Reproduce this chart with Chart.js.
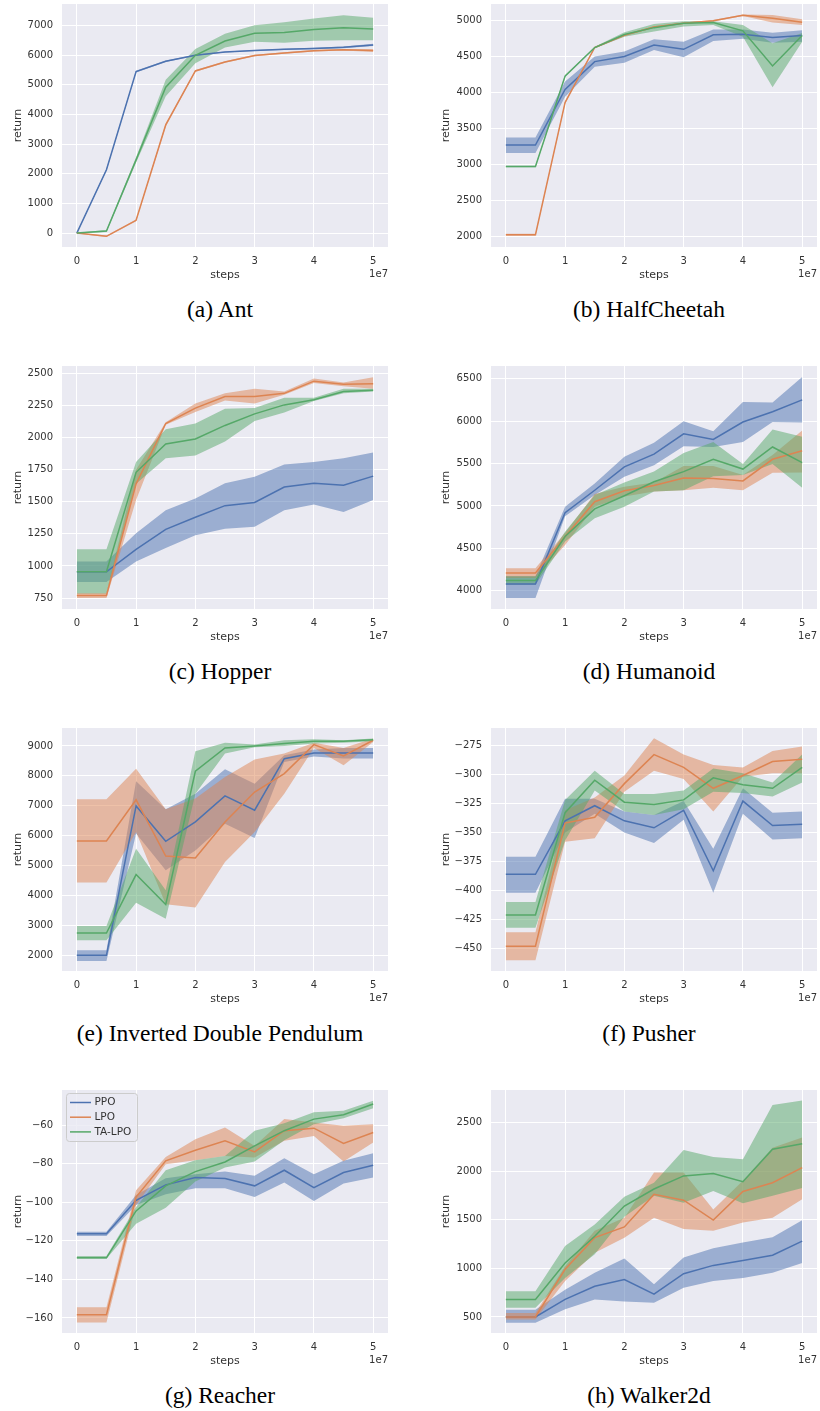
<!DOCTYPE html>
<html>
<head>
<meta charset="utf-8">
<script src="https://cdn.jsdelivr.net/npm/chart.js@4.4.1/dist/chart.umd.min.js"></script>
<style>
  body { margin: 0; background: #fff; }
  #page { position: relative; width: 820px; height: 1411px; background: #fff; }
  canvas { position: absolute; }
  .caption {
    position: absolute;
    width: 400px;
    margin-left: -200px;
    text-align: center;
    font-family: "Liberation Serif", "Times New Roman", serif;
    font-size: 23.5px;
    line-height: 28px;
    color: #000;
  }
</style>
</head>
<body>
<div id="page"></div>
<script>
"use strict";

const STEPS = [0, 0.5, 1, 1.5, 2, 2.5, 3, 3.5, 4, 4.5, 5];   // x 1e7
const X_TICKS = [0, 1, 2, 3, 4, 5];
const LABELS = ["PPO", "LPO", "TA-LPO"];

// (a) Ant
const ANT_YLIM = [-470, 7730];
const ANT_YTICKS = [0, 1000, 2000, 3000, 4000, 5000, 6000, 7000];
const ANT_PPO = [0, 2135, 5450, 5800, 6000, 6110, 6160, 6200, 6230, 6270, 6350];
const ANT_PPO_LO = [-15, 2100, 5420, 5775, 5980, 6090, 6140, 6180, 6205, 6240, 6310];
const ANT_PPO_HI = [15, 2170, 5480, 5825, 6020, 6130, 6180, 6220, 6255, 6300, 6390];
const ANT_LPO = [0, -110, 430, 3650, 5470, 5770, 5990, 6080, 6150, 6190, 6160];
const ANT_LPO_LO = [-15, -135, 400, 3600, 5440, 5745, 5965, 6055, 6125, 6165, 6110];
const ANT_LPO_HI = [15, -85, 460, 3700, 5500, 5795, 6015, 6105, 6175, 6215, 6200];
const ANT_TA = [0, 70, 2470, 4920, 6000, 6480, 6740, 6770, 6870, 6930, 6890];
const ANT_TA_LO = [-15, 40, 2380, 4620, 5730, 6260, 6460, 6420, 6490, 6510, 6510];
const ANT_TA_HI = [15, 100, 2560, 5170, 6210, 6730, 7010, 7110, 7240, 7350, 7270];

// (b) HalfCheetah
const HC_YLIM = [1860, 5222];
const HC_YTICKS = [2000, 2500, 3000, 3500, 4000, 4500, 5000];
const HC_PPO = [3270, 3270, 4040, 4425, 4495, 4655, 4595, 4795, 4805, 4760, 4785];
const HC_PPO_LO = [3160, 3160, 3940, 4355, 4410, 4585, 4485, 4710, 4740, 4685, 4700];
const HC_PPO_HI = [3375, 3375, 4150, 4495, 4565, 4735, 4700, 4870, 4870, 4825, 4860];
const HC_LPO = [2030, 2030, 3860, 4620, 4790, 4905, 4955, 4990, 5065, 5025, 4970];
const HC_LPO_LO = [2015, 2015, 3840, 4610, 4780, 4895, 4945, 4980, 5055, 4965, 4930];
const HC_LPO_HI = [2045, 2045, 3880, 4630, 4800, 4915, 4965, 5000, 5075, 5070, 5010];
const HC_TA = [2975, 2975, 4225, 4620, 4800, 4895, 4955, 4965, 4850, 4365, 4785];
const HC_TA_LO = [2965, 2965, 4210, 4610, 4770, 4840, 4910, 4930, 4770, 4070, 4700];
const HC_TA_HI = [2985, 2985, 4240, 4630, 4830, 4945, 4985, 4985, 4930, 4680, 4820];

// (c) Hopper
const HOP_YLIM = [665, 2558];
const HOP_YTICKS = [750, 1000, 1250, 1500, 1750, 2000, 2250, 2500];
const HOP_PPO = [955, 955, 1130, 1285, 1380, 1470, 1495, 1615, 1645, 1630, 1700];
const HOP_PPO_LO = [875, 875, 1035, 1140, 1240, 1290, 1305, 1435, 1480, 1420, 1515];
const HOP_PPO_HI = [1035, 1035, 1255, 1435, 1525, 1645, 1695, 1790, 1810, 1840, 1885];
const HOP_LPO = [770, 770, 1640, 2110, 2230, 2320, 2320, 2345, 2440, 2415, 2420];
const HOP_LPO_LO = [750, 750, 1515, 2100, 2200, 2290, 2265, 2335, 2425, 2400, 2380];
const HOP_LPO_HI = [790, 790, 1750, 2120, 2265, 2345, 2380, 2360, 2460, 2430, 2470];
const HOP_TA = [955, 955, 1730, 1950, 1990, 2095, 2185, 2255, 2295, 2360, 2370];
const HOP_TA_LO = [785, 785, 1640, 1840, 1860, 1970, 2130, 2195, 2285, 2345, 2360];
const HOP_TA_HI = [1130, 1130, 1810, 2065, 2110, 2225, 2230, 2310, 2310, 2380, 2380];

// (d) Humanoid
const HUM_YLIM = [3785, 6650];
const HUM_YTICKS = [4000, 4500, 5000, 5500, 6000, 6500];
const HUM_PPO = [4080, 4080, 4920, 5185, 5460, 5610, 5850, 5785, 5990, 6110, 6250];
const HUM_PPO_LO = [3915, 3915, 4880, 5130, 5345, 5480, 5705, 5695, 5755, 5990, 5985];
const HUM_PPO_HI = [4170, 4170, 4990, 5265, 5580, 5745, 6000, 5880, 6225, 6220, 6520];
const HUM_LPO = [4210, 4210, 4640, 5050, 5180, 5240, 5330, 5325, 5295, 5550, 5650];
const HUM_LPO_LO = [4150, 4150, 4540, 4990, 5110, 5170, 5185, 5215, 5185, 5390, 5395];
const HUM_LPO_HI = [4265, 4265, 4685, 5140, 5225, 5275, 5470, 5470, 5365, 5600, 5890];
const HUM_TA = [4120, 4120, 4640, 4965, 5120, 5285, 5405, 5550, 5435, 5695, 5510];
const HUM_TA_LO = [4070, 4070, 4580, 4855, 4990, 5170, 5185, 5350, 5365, 5495, 5215];
const HUM_TA_HI = [4170, 4170, 4695, 5130, 5275, 5405, 5625, 5755, 5495, 5900, 5815];

// (e) Inverted Double Pendulum
const IDP_YLIM = [1475, 9600];
const IDP_YTICKS = [2000, 3000, 4000, 5000, 6000, 7000, 8000, 9000];
const IDP_PPO = [2000, 2000, 6995, 5810, 6460, 7330, 6850, 8575, 8765, 8765, 8765];
const IDP_PPO_LO = [1810, 1810, 6070, 4840, 5500, 6400, 5920, 8460, 8650, 8580, 8580];
const IDP_PPO_HI = [2170, 2170, 7820, 6880, 7400, 8220, 7740, 8690, 8880, 8930, 8930];
const IDP_LPO = [5820, 5820, 7200, 5320, 5255, 6460, 7460, 8075, 9045, 8665, 9190];
const IDP_LPO_LO = [4430, 4430, 6120, 3705, 3595, 5120, 6120, 7405, 8935, 8355, 9135];
const IDP_LPO_HI = [7215, 7215, 8240, 6880, 7240, 7965, 8545, 8745, 9110, 8935, 9245];
const IDP_TA = [2745, 2745, 4700, 3695, 8155, 8935, 9000, 9080, 9155, 9155, 9210];
const IDP_TA_LO = [2500, 2500, 3760, 3225, 7405, 8745, 8955, 9000, 9080, 9110, 9155];
const IDP_TA_HI = [2980, 2980, 5565, 4175, 8820, 9110, 9045, 9190, 9225, 9190, 9245];

// (f) Pusher
const PUSH_YLIM = [-469.3, -260.1];
const PUSH_YTICKS = [-450, -425, -400, -375, -350, -325, -300, -275];
const PUSH_PPO = [-386, -386, -340, -327, -340, -346, -331, -383, -323, -344, -343];
const PUSH_PPO_LO = [-402, -402, -350, -334, -350, -359, -339, -402, -334, -356, -355];
const PUSH_PPO_HI = [-371, -371, -321, -321, -332, -335, -323, -364, -312, -333, -332];
const PUSH_LPO = [-448, -448, -342, -337, -308, -283, -294, -312, -301, -289, -287];
const PUSH_LPO_LO = [-460, -460, -358, -355, -315, -297, -304, -332, -302, -299, -299];
const PUSH_LPO_HI = [-436, -436, -331, -320, -301, -269, -283, -292, -294, -280, -276];
const PUSH_TA = [-421, -421, -333, -305, -324, -326, -322, -303, -309, -312, -294];
const PUSH_TA_LO = [-432, -432, -357, -314, -332, -335, -330, -315, -316, -319, -307];
const PUSH_TA_HI = [-410, -410, -322, -297, -317, -317, -314, -295, -299, -307, -283];

// (g) Reacher
const REA_YLIM = [-167.8, -41.8];
const REA_YTICKS = [-160, -140, -120, -100, -80, -60];
const REA_PPO = [-116.3, -116.3, -99.0, -91.0, -87.2, -87.7, -91.5, -83.4, -92.4, -84.6, -80.8];
const REA_PPO_LO = [-117.5, -117.5, -101.4, -95.9, -92.8, -92.8, -97.3, -89.8, -99.3, -90.3, -87.2];
const REA_PPO_HI = [-115.3, -115.3, -96.2, -87.6, -85.5, -84.1, -86.3, -77.2, -85.5, -78.5, -74.6];
const REA_LPO = [-158.3, -158.3, -97.3, -78.5, -73.0, -68.1, -73.9, -62.9, -61.6, -69.5, -63.8];
const REA_LPO_LO = [-162.3, -162.3, -101.4, -80.3, -78.2, -76.0, -76.8, -68.1, -65.6, -78.9, -69.0];
const REA_LPO_HI = [-154.5, -154.5, -93.8, -76.5, -67.3, -61.2, -70.8, -56.9, -58.6, -60.3, -59.5];
const REA_TA = [-128.8, -128.8, -104.5, -91.5, -84.1, -79.1, -70.8, -62.9, -56.9, -54.6, -49.1];
const REA_TA_LO = [-129.3, -129.3, -111.1, -102.8, -89.3, -82.0, -78.9, -67.8, -59.5, -56.4, -51.2];
const REA_TA_HI = [-127.9, -127.9, -102.5, -83.4, -78.2, -76.0, -62.9, -59.1, -53.4, -52.5, -47.4];

// (h) Walker2d
const WAL_YLIM = [335, 2833];
const WAL_YTICKS = [500, 1000, 1500, 2000, 2500];
const WAL_PPO = [500, 500, 680, 815, 885, 735, 945, 1030, 1080, 1135, 1280];
const WAL_PPO_LO = [440, 440, 580, 680, 660, 645, 800, 870, 900, 955, 1055];
const WAL_PPO_HI = [575, 575, 780, 955, 1100, 835, 1110, 1205, 1265, 1320, 1495];
const WAL_LPO = [500, 500, 990, 1315, 1425, 1760, 1700, 1495, 1790, 1880, 2035];
const WAL_LPO_LO = [475, 475, 870, 1160, 1315, 1520, 1405, 1385, 1470, 1520, 1710];
const WAL_LPO_HI = [540, 540, 1020, 1385, 1520, 1985, 1985, 1605, 1900, 2240, 2345];
const WAL_TA = [680, 680, 1055, 1330, 1640, 1815, 1950, 1975, 1890, 2225, 2280];
const WAL_TA_LO = [595, 595, 900, 1145, 1530, 1745, 1675, 1795, 1670, 1745, 1825];
const WAL_TA_HI = [765, 765, 1230, 1450, 1735, 1880, 2215, 2145, 2120, 2680, 2725];

const LINE_COLORS = ["#4c72b0", "#dd8452", "#55a868"];
const BAND_COLORS = ["rgba(76,114,176,0.5)", "rgba(221,132,82,0.5)", "rgba(85,168,104,0.5)"];
const TEXT_COLOR = "#333333";
const FONT = "'DejaVu Sans', sans-serif";

const PANELS = [
  { caption: "(a) Ant", col: 0, row: 0, ylim: ANT_YLIM, yticks: ANT_YTICKS,
    mean: [ANT_PPO, ANT_LPO, ANT_TA], lo: [ANT_PPO_LO, ANT_LPO_LO, ANT_TA_LO], hi: [ANT_PPO_HI, ANT_LPO_HI, ANT_TA_HI] },
  { caption: "(b) HalfCheetah", col: 1, row: 0, ylim: HC_YLIM, yticks: HC_YTICKS,
    mean: [HC_PPO, HC_LPO, HC_TA], lo: [HC_PPO_LO, HC_LPO_LO, HC_TA_LO], hi: [HC_PPO_HI, HC_LPO_HI, HC_TA_HI] },
  { caption: "(c) Hopper", col: 0, row: 1, ylim: HOP_YLIM, yticks: HOP_YTICKS,
    mean: [HOP_PPO, HOP_LPO, HOP_TA], lo: [HOP_PPO_LO, HOP_LPO_LO, HOP_TA_LO], hi: [HOP_PPO_HI, HOP_LPO_HI, HOP_TA_HI] },
  { caption: "(d) Humanoid", col: 1, row: 1, ylim: HUM_YLIM, yticks: HUM_YTICKS,
    mean: [HUM_PPO, HUM_LPO, HUM_TA], lo: [HUM_PPO_LO, HUM_LPO_LO, HUM_TA_LO], hi: [HUM_PPO_HI, HUM_LPO_HI, HUM_TA_HI] },
  { caption: "(e) Inverted Double Pendulum", col: 0, row: 2, ylim: IDP_YLIM, yticks: IDP_YTICKS,
    mean: [IDP_PPO, IDP_LPO, IDP_TA], lo: [IDP_PPO_LO, IDP_LPO_LO, IDP_TA_LO], hi: [IDP_PPO_HI, IDP_LPO_HI, IDP_TA_HI] },
  { caption: "(f) Pusher", col: 1, row: 2, ylim: PUSH_YLIM, yticks: PUSH_YTICKS,
    mean: [PUSH_PPO, PUSH_LPO, PUSH_TA], lo: [PUSH_PPO_LO, PUSH_LPO_LO, PUSH_TA_LO], hi: [PUSH_PPO_HI, PUSH_LPO_HI, PUSH_TA_HI] },
  { caption: "(g) Reacher", col: 0, row: 3, ylim: REA_YLIM, yticks: REA_YTICKS, legend: true,
    mean: [REA_PPO, REA_LPO, REA_TA], lo: [REA_PPO_LO, REA_LPO_LO, REA_TA_LO], hi: [REA_PPO_HI, REA_LPO_HI, REA_TA_HI] },
  { caption: "(h) Walker2d", col: 1, row: 3, ylim: WAL_YLIM, yticks: WAL_YTICKS,
    mean: [WAL_PPO, WAL_LPO, WAL_TA], lo: [WAL_PPO_LO, WAL_LPO_LO, WAL_TA_LO], hi: [WAL_PPO_HI, WAL_LPO_HI, WAL_TA_HI] }
];

const ROW_STEP = 362;
const CANVAS_W = 410;
const CANVAS_H = 290;

function fmtTick(v) {
  return v < 0 ? "\u2212" + Math.abs(v) : String(v);
}

function toPoints(values) {
  return STEPS.map((x, i) => ({ x, y: values[i] }));
}

// keep Chart.js from adding label padding around the plot area
function noScalePadding(scale) {
  scale.paddingTop = 0;
  scale.paddingBottom = 0;
  scale.paddingLeft = 0;
  scale.paddingRight = 0;
}

const plotBackground = {
  id: "plotBackground",
  beforeDraw(chart) {
    const { ctx, chartArea: a } = chart;
    ctx.save();
    ctx.fillStyle = "#eaeaf2";
    ctx.fillRect(a.left, a.top, a.right - a.left, a.bottom - a.top);
    ctx.restore();
  }
};

const offsetText = {
  id: "offsetText",
  afterDraw(chart) {
    const { ctx, chartArea: a } = chart;
    ctx.save();
    ctx.fillStyle = TEXT_COLOR;
    ctx.font = "10px " + FONT;
    ctx.textAlign = "right";
    ctx.textBaseline = "middle";
    ctx.fillText("1e7", a.right, a.bottom + 27);
    ctx.restore();
  }
};

const innerLegend = {
  id: "innerLegend",
  afterDraw(chart, args, opts) {
    if (!opts.show) return;
    const { ctx, chartArea: a } = chart;
    const x = a.left + 4, y = a.top + 3, w = 71, h = 48;
    ctx.save();
    ctx.beginPath();
    ctx.roundRect(x + 0.5, y + 0.5, w, h, 3);
    ctx.fillStyle = "rgba(234,234,242,0.8)";
    ctx.fill();
    ctx.strokeStyle = "#cccccc";
    ctx.lineWidth = 1;
    ctx.stroke();
    ctx.font = "10.5px " + FONT;
    ctx.textBaseline = "middle";
    ctx.textAlign = "left";
    LABELS.forEach((label, i) => {
      const ly = y + 9.5 + i * 14.7;
      ctx.strokeStyle = LINE_COLORS[i];
      ctx.lineWidth = 1.5;
      ctx.beginPath();
      ctx.moveTo(x + 4, ly);
      ctx.lineTo(x + 25, ly);
      ctx.stroke();
      ctx.fillStyle = TEXT_COLOR;
      ctx.fillText(label, x + 28.5, ly);
    });
    ctx.restore();
  }
};

function buildDatasets(panel) {
  const datasets = [];
  LABELS.forEach((label, i) => {
    datasets.push({
      label: label + " low",
      data: toPoints(panel.lo[i]),
      borderColor: "transparent",
      borderWidth: 0,
      pointRadius: 0,
      fill: false,
      order: 10 - i
    });
    datasets.push({
      label: label + " high",
      data: toPoints(panel.hi[i]),
      borderColor: "transparent",
      borderWidth: 0,
      pointRadius: 0,
      backgroundColor: BAND_COLORS[i],
      fill: "-1",
      order: 10 - i
    });
  });
  LABELS.forEach((label, i) => {
    datasets.push({
      label,
      data: toPoints(panel.mean[i]),
      borderColor: LINE_COLORS[i],
      borderWidth: 1.5,
      pointRadius: 0,
      fill: false,
      tension: 0,
      order: 5 - i
    });
  });
  return datasets;
}

function renderPanel(panel) {
  const page = document.getElementById("page");
  const canvas = document.createElement("canvas");
  canvas.width = CANVAS_W;
  canvas.height = CANVAS_H;
  canvas.style.left = panel.col * CANVAS_W + "px";
  canvas.style.top = panel.row * ROW_STEP + "px";
  page.appendChild(canvas);

  const cap = document.createElement("div");
  cap.className = "caption";
  cap.textContent = panel.caption;
  cap.style.left = (panel.col === 0 ? 220 : 649) + "px";
  cap.style.top = (panel.row * ROW_STEP + 309 - 14) + "px";
  page.appendChild(cap);

  const yAxisWidth = panel.col === 0 ? 62 : 81;
  const rightPad = panel.col === 0 ? 22 : 3;
  const yTitlePad = panel.col === 0 ? 11.7 : 30;
  const tickFont = { family: FONT, size: 10 };
  const labelFont = { family: FONT, size: 11 };

  new Chart(canvas, {
    type: "line",
    data: { datasets: buildDatasets(panel) },
    plugins: [plotBackground, offsetText, innerLegend],
    options: {
      responsive: false,
      animation: false,
      devicePixelRatio: 1,
      layout: { padding: { left: 0, right: rightPad, top: 4, bottom: 9 } },
      plugins: {
        legend: { display: false },
        tooltip: { enabled: false },
        filler: { drawTime: "beforeDatasetsDraw" },
        innerLegend: { show: !!panel.legend }
      },
      scales: {
        x: {
          type: "linear",
          min: -0.25,
          max: 5.25,
          afterBuildTicks: scale => { scale.ticks = X_TICKS.map(v => ({ value: v })); },
          afterFit: scale => { scale.height = 34; noScalePadding(scale); },
          grid: { color: "#ffffff", lineWidth: 1, drawTicks: false },
          border: { display: false },
          ticks: { padding: 8, color: TEXT_COLOR, font: tickFont, maxRotation: 0, autoSkip: false, callback: v => fmtTick(v) },
          title: { display: true, text: "steps", color: TEXT_COLOR, font: labelFont, padding: { top: 0, bottom: -1 } }
        },
        y: {
          type: "linear",
          min: panel.ylim[0],
          max: panel.ylim[1],
          afterBuildTicks: scale => { scale.ticks = panel.yticks.map(v => ({ value: v })); },
          afterFit: scale => { scale.width = yAxisWidth; noScalePadding(scale); },
          grid: { color: "#ffffff", lineWidth: 1, drawTicks: false },
          border: { display: false },
          ticks: { padding: 9, color: TEXT_COLOR, font: tickFont, autoSkip: false, callback: v => fmtTick(v) },
          title: { display: true, text: "return", color: TEXT_COLOR, font: labelFont, padding: { top: yTitlePad, bottom: 0 } }
        }
      }
    }
  });
}

PANELS.forEach(renderPanel);
</script>
</body>
</html>
